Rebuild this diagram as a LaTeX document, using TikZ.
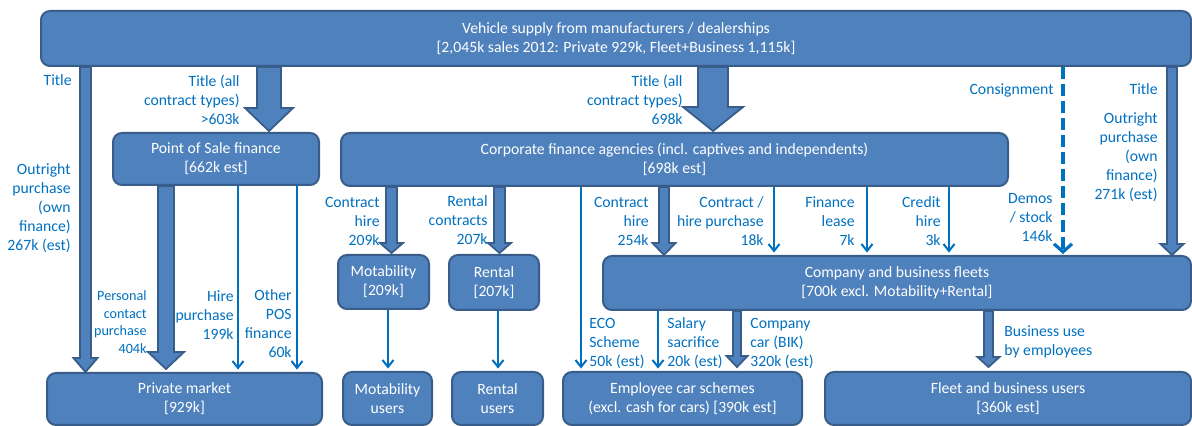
\documentclass[tikz,border=0pt]{standalone}
\usepackage{fontspec}
\setmainfont{Carlito}
\usetikzlibrary{arrows.meta,calc}
\definecolor{boxfill}{HTML}{4F81BD}
\definecolor{boxline}{HTML}{385D8A}
\definecolor{lblblue}{HTML}{0070C0}
\newcommand\fmain{\fontsize{7.85}{9.5}\selectfont}
\newcommand\fsmall{\fontsize{7.1}{8.75}\selectfont}
% #1 x, #2 from node, #3 to node, #4 shaft half, #5 head half, #6 head length, #7 gap
\newcommand\fatarrow[7]{%
  \path (#2.south -| #1,0) coordinate (fas) (#3.north -| #1,0) coordinate (fae);
  \draw[fatarr] ($(fas)+(-#4,0)$) -- ($(fae)+(-#4,-#6-#7)$) -- ($(fae)+(-#5,-#6-#7)$)
    -- ($(fae)+(0,-#7)$) -- ($(fae)+(#5,-#6-#7)$) -- ($(fae)+(#4,-#6-#7)$) -- ($(fas)+(#4,0)$) -- cycle;}
\newcommand\thinarrow[3]{%
  \draw[thinarr] (#2.south -| #1,0) -- (#3.north -| #1,0);}
\begin{document}
\begin{tikzpicture}[x=0.5pt,y=-0.5pt,
  box/.style={draw=boxline, fill=boxfill, line width=1pt, rounded corners=4.5pt,
    text=white, align=center, font=\fmain, inner sep=0pt},
  fatarr/.style={draw=boxline, fill=boxfill, line width=0.9pt, line join=miter},
  thinarr/.style={draw=lblblue, line width=1pt, shorten >=1.2pt,
    -{Straight Barb[length=3.5pt,width=5.5pt,line width=1pt]}},
  dasharr/.style={draw=lblblue, line width=2pt, dash pattern=on 6pt off 2.5pt, shorten >=0.5pt,
    -{Straight Barb[length=4pt,width=9pt,line width=1.6pt]}},
  lbl/.style={text=lblblue, font=\fmain, inner sep=0pt, align=right, anchor=base east},
  lbll/.style={text=lblblue, font=\fmain, inner sep=0pt, align=left, anchor=base west}]
\useasboundingbox (0,0) rectangle (1192,426);

% boxes
\node[box,minimum width=575pt,minimum height=27.5pt] (top) at (616,38.5)
  {Vehicle supply from manufacturers / dealerships\\{}[2,045k sales 2012: Private 929k, Fleet+Business 1,115k]};
\node[box,minimum width=103pt,minimum height=26pt] (pos) at (216,159) {Point of Sale finance\\{}[662k est]};
\node[box,minimum width=333.5pt,minimum height=26.5pt] (corp) at (674.5,159.5)
  {Corporate finance agencies (incl. captives and independents)\\{}[698k est]};
\node[box,minimum width=45.5pt,minimum height=27pt] (mot) at (383.5,282) {Motability\\{}[209k]};
\node[box,minimum width=45pt,minimum height=27.5pt] (rent) at (494,282.5) {Rental\\{}[207k]};
\node[box,minimum width=294pt,minimum height=27pt] (fleet) at (897,283)
  {Company and business fleets\\{}[700k excl. Motability+Rental]};
\node[box,minimum width=137.5pt,minimum height=26pt] (priv) at (184.5,399) {Private market\\{}[929k]};
\node[box,minimum width=44.5pt,minimum height=26.5pt] (motu) at (387.5,398.5) {Motability\\users};
\node[box,minimum width=45.5pt,minimum height=26.5pt] (rentu) at (497.5,398.5) {Rental\\users};
\node[box,minimum width=119.5pt,minimum height=26.5pt] (emp) at (682.5,398.5)
  {Employee car schemes\\(excl. cash for cars) [390k est]};
\node[box,minimum width=183pt,minimum height=26.5pt] (fbu) at (1008,398.5) {Fleet and business users\\{}[360k est]};

% fat arrows
\fatarrow{85.5}{top}{priv}{5.5}{12}{14}{0}
\fatarrow{269}{top}{pos}{12}{24}{23}{1}
\fatarrow{166}{pos}{priv}{8}{18}{17}{3}
\fatarrow{713}{top}{corp}{15}{30}{24}{1}
\fatarrow{391.5}{corp}{mot}{5.5}{11.5}{10}{1}
\fatarrow{499.5}{corp}{rent}{5.5}{11.5}{10}{1}
\fatarrow{664}{corp}{fleet}{5}{11.5}{12}{0}
\fatarrow{1172}{top}{fleet}{5}{11.5}{11}{0}
\fatarrow{737}{fleet}{emp}{4}{10.5}{11}{4}
\fatarrow{988.5}{fleet}{fbu}{4.5}{11}{10}{4}

% thin arrows
\thinarrow{238}{pos}{priv}
\thinarrow{297}{pos}{priv}
\thinarrow{388}{mot}{motu}
\thinarrow{498}{rent}{rentu}
\thinarrow{581}{corp}{emp}
\thinarrow{774}{corp}{fleet}
\thinarrow{867}{corp}{fleet}
\thinarrow{949}{corp}{fleet}
\thinarrow{658}{fleet}{emp}
\draw[dasharr] (top.south -| 1063,0) -- (fleet.north -| 1063,0);

% labels (anchor = baseline of last line)
\node[lbl] (l1) at (72,86) {Title};
\node[lbl] (l2) at (240,125) {Title (all\\contract types)\\>603k};
\node[lbl] (l3) at (683,125) {Title (all\\contract types)\\698k};
\node[lbl] (l4) at (1054,95) {Consignment};
\node[lbl] (l5) at (1158,95) {Title};
\node[lbl] (l6) at (1158,200) {Outright\\purchase\\(own\\finance)\\271k (est)};
\node[lbl] (l7) at (71,251) {Outright\\purchase\\(own\\finance)\\267k (est)};
\node[lbl,font=\fsmall] (l8) at (147,353.5) {Personal\\contact\\purchase\\404k};
\node[lbl] (l9) at (234,340) {Hire\\purchase\\199k};
\node[lbl] (l10) at (292,358) {Other\\POS\\finance\\60k};
\node[lbl] (l11) at (380,246) {Contract\\hire\\209k};
\node[lbl] (l12) at (488,245) {Rental\\contracts\\207k};
\node[lbl] (l13) at (649,246) {Contract\\hire\\254k};
\node[lbl] (l14) at (764,246) {Contract /\\hire purchase\\18k};
\node[lbl] (l15) at (855,246) {Finance\\lease\\7k};
\node[lbl] (l16) at (941,246) {Credit\\hire\\3k};
\node[lbl] (l17) at (1053,242) {Demos\\/ stock\\146k};
\node[lbll] (l18) at (589,367) {ECO\\Scheme\\50k (est)};
\node[lbll] (l19) at (667,367) {Salary\\sacrifice\\20k (est)};
\node[lbll] (l20) at (750,367) {Company\\car (BIK)\\320k (est)};
\node[lbll] (l21) at (1004,356) {Business use\\by employees};
\end{tikzpicture}
\end{document}
